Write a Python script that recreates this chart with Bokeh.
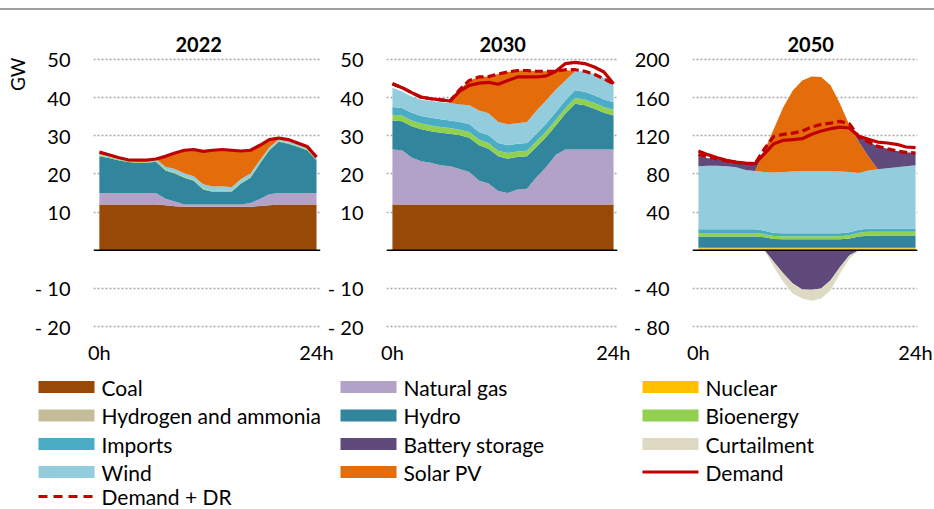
from bokeh.plotting import figure
from bokeh.models import Range1d, FixedTicker, Span, ColumnDataSource, Div, Title
from bokeh.layouts import column, row
from bokeh.embed import file_html
from bokeh.resources import INLINE
from bokeh.core.properties import value

FONT = "Lato"
TXT = "#000000"

# ---------------- data ----------------
hours = [0, 1, 2, 3, 4, 5, 6, 7, 8, 9, 10, 11, 12, 13, 14, 15, 16, 17, 18, 19, 20, 21, 22, 23]
hour_labels = {0: "0h", 23: "24h"}

# 2022 (GW)
coal_2022 = [12, 12, 12, 12, 12, 12, 12, 11.8, 11.5, 11.4, 11.4, 11.4, 11.4, 11.4, 11.4, 11.4, 11.4, 11.6, 11.8, 12, 12, 12, 12, 12]
gas_2022 = [3, 3, 3, 3, 3, 3, 3, 1.7, 1.3, 0.6, 0.6, 0.6, 0.6, 0.6, 0.6, 0.6, 1.0, 1.8, 2.9, 3, 3, 3, 3, 3]
hydro_2022 = [9.6, 9.2, 8.6, 8.1, 7.9, 7.9, 8.2, 7.4, 7.3, 7.0, 6.2, 3.9, 3.3, 3.4, 3.3, 5.5, 6.6, 9.3, 11.5, 13.4, 12.9, 12.1, 11.2, 8.6]
bio_2022 = [0.2, 0.2, 0.2, 0.2, 0.2, 0.2, 0.2, 0.2, 0.2, 0.2, 0.2, 0.2, 0.2, 0.2, 0.2, 0.2, 0.2, 0.2, 0.2, 0.2, 0.2, 0.2, 0.2, 0.2]
wind_2022 = [0.5, 0.5, 0.5, 0.5, 0.5, 0.5, 0.5, 0.8, 1.0, 1.0, 1.0, 1.2, 1.2, 1.2, 1.0, 1.0, 0.9, 0.7, 0.5, 0.5, 0.5, 0.5, 0.5, 0.5]
solar_2022 = [0, 0, 0, 0, 0, 0, 0, 2.7, 4.2, 6.0, 7.0, 8.6, 9.5, 9.6, 9.7, 7.3, 6.1, 3.9, 2.1, 0.3, 0, 0, 0, 0]
demand_2022 = [25.7, 25.0, 24.3, 23.7, 23.6, 23.6, 23.9, 24.6, 25.5, 26.2, 26.4, 25.9, 26.2, 26.4, 26.2, 26.0, 26.2, 27.5, 29.0, 29.4, 29.0, 28.1, 27.2, 24.4]

# 2030 (GW)
coal_2030 = [12, 12, 12, 12, 12, 12, 12, 12, 12, 12, 12, 12, 12, 12, 12, 12, 12, 12, 12, 12, 12, 12, 12, 12]
gas_2030 = [14.4, 14.2, 12.3, 11.3, 10.9, 10.3, 10.0, 9.3, 8.5, 6.3, 5.5, 3.5, 3.0, 3.9, 4.1, 7.2, 9.8, 13.0, 14.4, 14.4, 14.4, 14.4, 14.4, 14.4]
hydro_2030 = [7.6, 7.6, 8.2, 8.4, 8.3, 8.5, 8.5, 8.8, 9.0, 9.2, 9.1, 9.1, 9.0, 8.5, 8.5, 7.9, 7.9, 7.7, 9.4, 12.0, 11.6, 10.7, 9.6, 8.9]
bio_2030 = [1.5, 1.5, 1.5, 1.5, 1.5, 1.5, 1.5, 1.5, 1.5, 1.5, 1.5, 1.5, 1.5, 1.5, 1.5, 1.5, 1.5, 1.5, 1.5, 1.5, 1.5, 1.5, 1.5, 1.5]
imports_2030 = [2.0, 2.0, 2.0, 2.0, 2.0, 2.0, 2.0, 2.0, 2.0, 2.0, 2.0, 2.0, 2.0, 2.0, 2.0, 2.0, 2.0, 2.0, 2.0, 2.0, 2.0, 2.0, 2.0, 2.0]
wind_2030 = [5.1, 4.3, 4.3, 4.2, 4.4, 4.5, 4.6, 4.6, 5.0, 5.6, 5.8, 5.5, 5.5, 5.4, 5.5, 6.0, 6.1, 5.9, 5.2, 5.0, 5.4, 5.6, 5.7, 5.0]
solar_2030 = [0, 0, 0, 0, 0, 0, 0, 3.9, 6.5, 8.8, 9.6, 12.6, 13.7, 13.8, 13.5, 10.3, 7.6, 4.8, 2.7, 0, 0, 0, 0, 0]
demand_2030 = [43.6, 42.6, 41.3, 40.1, 39.7, 39.4, 39.1, 41.7, 43.2, 43.8, 44.0, 43.5, 44.5, 45.4, 45.4, 45.4, 45.7, 46.9, 48.9, 49.2, 48.9, 48.0, 46.7, 43.6]
demand_dr_2030 = [43.6, 42.6, 41.3, 40.1, 39.7, 39.4, 39.1, 42.1, 44.5, 45.4, 45.5, 46.2, 46.7, 47.1, 47.1, 46.9, 46.9, 46.9, 47.3, 47.3, 46.9, 46.1, 44.9, 43.6]

# 2050 (GW)
nuclear_2050 = [2, 2, 2, 2, 2, 2, 2, 2, 2, 2, 2, 2, 2, 2, 2, 2, 2, 2, 2, 2, 2, 2, 2, 2]
hydrogen_2050 = [0.5, 0.5, 0.5, 0.5, 0.5, 0.5, 0.5, 0.5, 0.5, 0.5, 0.5, 0.5, 0.5, 0.5, 0.5, 0.5, 0.5, 0.5, 0.5, 0.5, 0.5, 0.5, 0.5, 0.5]
hydro_2050 = [12, 12, 12, 12, 12, 12, 12, 11, 9.2, 9, 9, 9, 9, 9, 9, 9, 9.8, 12, 12.8, 13, 13, 13, 13, 13]
bio_2050 = [3.5, 3.5, 3.5, 3.5, 3.5, 3.5, 3.5, 3.4, 3.2, 3.2, 3.2, 3.2, 3.2, 3.2, 3.2, 3.2, 3.4, 3.8, 4, 4, 4, 4, 4, 4]
imports_2050 = [4, 4, 4, 4, 4, 4, 4, 3.6, 3.1, 3, 3, 3, 3, 3, 3, 3, 3.1, 3.2, 3.2, 3.2, 3.2, 3.2, 3.2, 3.2]
wind_2050 = [66, 66.5, 66.5, 66, 65, 62, 61, 61.5, 63.5, 64.3, 64.8, 65, 65, 65, 65, 64.8, 63.2, 59.5, 61, 62.3, 63.3, 64.3, 65.3, 66.3]
solar_2050 = [0, 0, 0, 0, 0, 0, 0, 22.7, 45.9, 68, 85, 95.3, 99.5, 98.8, 90.1, 71.1, 48.9, 32.4, 14.9, 0, 0, 0, 0, 0]
battery_2050 = [11, 8, 6.5, 5.5, 5, 6.5, 7.5, 0, 0, 0, 0, 0, 0, 0, 0, 0, 0, 5.6, 15, 24, 20.4, 17, 14.6, 12.9]
battery_charge_2050 = [0, 0, 0, 0, 0, 0, 0, 0, -12.2, -24.4, -34.9, -41, -41.5, -40, -31.4, -17.5, -5.2, 0, 0, 0, 0, 0, 0, 0]
curtail_2050 = [0, 0, 0, 0, 0, 0, 0, 0, -5.3, -8.8, -10.5, -9.6, -11.5, -10.6, -10.5, -6.9, -3.5, 0, 0, 0, 0, 0, 0, 0]
demand_2050 = [104, 100.2, 97, 94.2, 92.5, 91.4, 90.7, 101.2, 111.7, 115.2, 115.9, 116.9, 121.5, 124.9, 127.4, 129.1, 128.1, 119.4, 116.2, 113.4, 112.4, 111, 108.2, 107.5]
demand_dr_2050 = [100.5, 97.7, 95.6, 93.5, 92.1, 91.1, 90.7, 106.4, 119.4, 121.5, 122.8, 124.9, 129.1, 131.9, 133.3, 135.1, 132.6, 118.7, 113.4, 108.9, 106.4, 104, 102.6, 101.9]

# axis ticks
ticks_gw = [-20, -10, 0, 10, 20, 30, 40, 50]
labels_gw = {0: "", -10: "- 10", -20: "- 20"}
ticks_2050 = [-80, -40, 0, 40, 80, 120, 160, 200]
labels_2050 = {0: "", -40: "- 40", -80: "- 80"}

# legend
legend_labels = ["Coal", "Natural gas", "Nuclear", "Hydrogen and ammonia", "Hydro", "Bioenergy",
                 "Imports", "Battery storage", "Curtailment", "Wind", "Solar PV", "Demand", "Demand + DR"]
legend_keys = ["coal", "gas", "nuclear", "hydrogen", "hydro", "bio", "imports", "battery", "curtail",
               "wind", "solar", "demand", "demand_dr"]

COLORS = {"coal": "#984807", "gas": "#B3A2C7", "nuclear": "#FFC000", "hydrogen": "#C4BD97",
          "hydro": "#31859C", "bio": "#92D050", "imports": "#4BACC6", "battery": "#604A7B",
          "curtail": "#DDD9C3", "wind": "#93CDDD", "solar": "#E46C0A"}
DEMAND_COLOR = "#C00000"
STACK_ORDER = ["coal", "gas", "nuclear", "hydrogen", "hydro", "bio", "imports", "wind", "solar", "battery"]

PANEL_H = 358


def make_panel(year, series, demand, demand_dr, negative, y_lo, y_hi, y_ticks, y_overrides,
               width, border_l, border_r, pad_l, pad_r, title_offset, margin=None, gw=False):
    p = figure(width=width, height=PANEL_H,
               x_range=Range1d(-pad_l, 23 + pad_r), y_range=Range1d(y_lo, y_hi),
               output_backend="svg", toolbar_location=None,
               min_border_left=border_l, min_border_right=border_r,
               min_border_top=47, min_border_bottom=40)
    if margin is not None:
        p.margin = margin
    p.border_fill_color = None
    p.background_fill_color = None
    p.outline_line_color = None

    p.title.text = year
    p.title.align = "left"
    p.title.offset = title_offset
    p.title.standoff = 11
    p.title.text_font = FONT
    p.title.text_font_style = "bold"
    p.title.text_font_size = "20px"
    p.title.text_color = TXT

    p.xgrid.visible = False
    p.ygrid.ticker = FixedTicker(ticks=[t for t in y_ticks if t != 0])
    p.ygrid.grid_line_color = "#A6A6A6"
    p.ygrid.grid_line_dash = "2 2"
    p.ygrid.grid_line_width = 1.3

    for ax in (p.xaxis[0], p.yaxis[0]):
        ax.axis_line_color = None
        ax.major_tick_line_color = None
        ax.minor_tick_line_color = None
        ax.major_label_text_font = FONT
        ax.major_label_text_font_size = "20px"
        ax.major_label_text_color = TXT
    p.yaxis.ticker = FixedTicker(ticks=y_ticks)
    p.yaxis.major_label_overrides = y_overrides
    p.yaxis.major_label_standoff = 17
    p.xaxis.ticker = FixedTicker(ticks=[0, 23])
    p.xaxis.major_label_overrides = hour_labels
    p.xaxis.major_label_standoff = 5

    keys = [k for k in STACK_ORDER if k in series]
    src = ColumnDataSource(dict(h=hours, **{k: series[k] for k in keys}))
    p.varea_stack(stackers=keys, x="h", color=[COLORS[k] for k in keys], source=src)

    if negative:
        nkeys = list(negative.keys())
        nsrc = ColumnDataSource(dict(h=hours, **negative))
        p.varea_stack(stackers=nkeys, x="h", color=[COLORS[k] for k in nkeys], source=nsrc)

    p.add_layout(Span(location=0, dimension="width", line_color="#000000", line_width=1.5))

    p.line(hours, demand, line_color=DEMAND_COLOR, line_width=3.2, line_join="round")
    if demand_dr is not None:
        p.line(hours, demand_dr, line_color=DEMAND_COLOR, line_width=3.2, line_dash="8 4")

    if gw:
        p.add_layout(Title(text="GW", align="right", offset=0, standoff=6, text_font=FONT,
                           text_font_size="19px", text_font_style="normal", text_color=TXT), "left")
    return p


p1 = make_panel("2022",
                {"coal": coal_2022, "gas": gas_2022, "hydro": hydro_2022, "bio": bio_2022,
                 "wind": wind_2022, "solar": solar_2022},
                demand_2022, None, None, -20.5, 50.5, ticks_gw, labels_gw,
                width=340, border_l=89, border_r=20, pad_l=0.62, pad_r=0.42,
                title_offset=82, gw=True)

p2 = make_panel("2030",
                {"coal": coal_2030, "gas": gas_2030, "hydro": hydro_2030, "bio": bio_2030,
                 "imports": imports_2030, "wind": wind_2030, "solar": solar_2030},
                demand_2030, demand_dr_2030, None, -20.5, 50.5, ticks_gw, labels_gw,
                width=306, border_l=59, border_r=13, pad_l=0.616, pad_r=0.411,
                title_offset=93, margin=(0, 0, 0, -16))

p3 = make_panel("2050",
                {"nuclear": nuclear_2050, "hydrogen": hydrogen_2050, "hydro": hydro_2050,
                 "bio": bio_2050, "imports": imports_2050, "wind": wind_2050,
                 "solar": solar_2050, "battery": battery_2050},
                demand_2050, demand_dr_2050,
                {"battery": battery_charge_2050, "curtail": curtail_2050},
                -82, 202, ticks_2050, labels_2050,
                width=304, border_l=58, border_r=17, pad_l=0.624, pad_r=0.208,
                title_offset=95)

# ---------------- legend ----------------
LEG_W, LEG_H = 934, 141
lg = figure(width=LEG_W, height=LEG_H, x_range=Range1d(0, LEG_W), y_range=Range1d(LEG_H, 0),
            x_axis_type=None, y_axis_type=None, output_backend="svg", toolbar_location=None,
            min_border=0)
lg.outline_line_color = None
lg.border_fill_color = None
lg.background_fill_color = None

swatch_x = [66, 368, 670]
text_x = [101, 403, 705]
row_y = [18.5, 47, 75.5, 103.5, 128]

rx, ry, rc = [], [], []
tx, ty, tt = [], [], []
for i, (lab, key) in enumerate(zip(legend_labels, legend_keys)):
    c, r = i % 3, i // 3
    if key in COLORS:
        rx.append(swatch_x[c]); ry.append(row_y[r]); rc.append(COLORS[key])
    elif key == "demand":
        lg.line([swatch_x[c] - 28, swatch_x[c] + 28], [row_y[r], row_y[r]],
                line_color=DEMAND_COLOR, line_width=3.2)
    else:
        lg.line([swatch_x[c] - 28, swatch_x[c] + 28], [row_y[r], row_y[r]],
                line_color=DEMAND_COLOR, line_width=3.2, line_dash="9 6")
    tx.append(text_x[c]); ty.append(row_y[r]); tt.append(lab)

lg.rect(x="x", y="y", width=56, height=12, fill_color="c", line_color=None,
        source=ColumnDataSource(dict(x=rx, y=ry, c=rc)))
lg.text(x="x", y="y", text="t", text_font=value(FONT), text_font_size=value("21px"),
        text_baseline="middle", text_align="left", text_color=TXT,
        source=ColumnDataSource(dict(x=tx, y=ty, t=tt)))

topline = Div(text="", width=934, height=2, margin=(8, 0, 0, 0),
              styles={"background-color": "#A0A0A0"})

layout = column(topline, row(p1, p2, p3), lg)

open("out.html", "w").write(file_html(layout, INLINE))
